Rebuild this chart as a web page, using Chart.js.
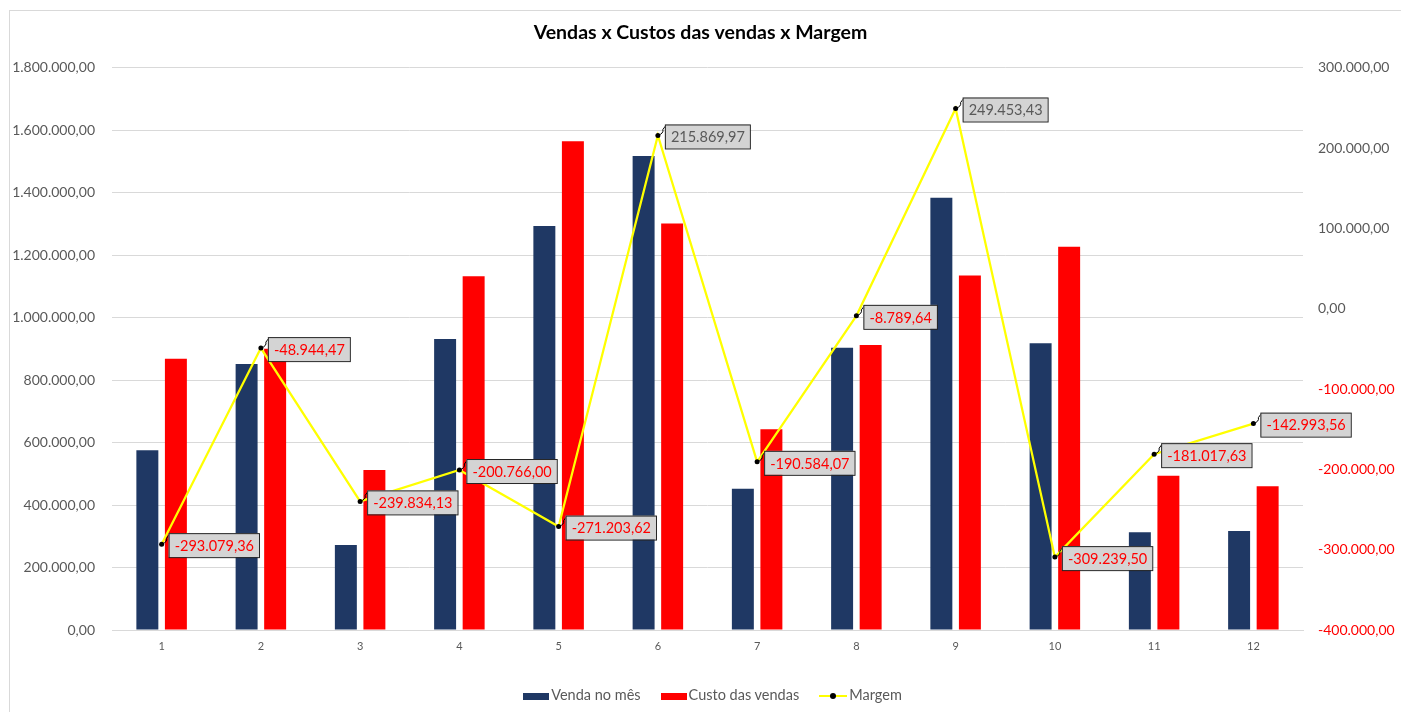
<!DOCTYPE html>
<html lang="pt-BR">
<head>
<meta charset="utf-8">
<title>Vendas x Custos das vendas x Margem</title>
<script src="https://cdn.jsdelivr.net/npm/chart.js@4.4.1/dist/chart.umd.min.js"></script>
<style>
  html, body { margin: 0; padding: 0; background: #fff; }
  #wrap { position: relative; width: 1401px; height: 712px; overflow: hidden; font-family: Lato, "Noto Sans", sans-serif; }
  #frame { position: absolute; left: 9px; top: 10px; width: 1400px; height: 710px; border: 1px solid #d9d9d9; box-sizing: border-box; pointer-events: none; }
  #chart { position: absolute; left: 0; top: 0; }
  #legend { position: absolute; left: 12px; width: 1401px; top: 684px; text-align: center; font-size: 14.5px; color: #595959; }
  #legend span.item { display: inline-block; margin: 0 10px; vertical-align: middle; }
  #legend i { display: inline-block; vertical-align: middle; margin-right: 2px; }
  .sw { width: 26px; height: 7px; }
  .ln { width: 28px; height: 2px; background: #ffff00; position: relative; }
  .ln b { position: absolute; left: 11px; top: -2px; width: 6px; height: 6px; border-radius: 3px; background: #000; }
</style>
</head>
<body>
<div id="wrap">
  <canvas id="chart" width="1401" height="712"></canvas>
  <div id="frame"></div>
  <div id="legend"></div>
</div>
<script>
// Vendas x Custos das vendas x Margem: barras (eixo esquerdo) + linha da margem (eixo direito)
const MESES = ["1", "2", "3", "4", "5", "6", "7", "8", "9", "10", "11", "12"];
const VENDA = [576000, 852000, 272000, 932000, 1294000, 1518000, 452000, 904000, 1384000, 918000, 313000, 317000];
const CUSTO = [869000, 901000, 512000, 1133000, 1565000, 1302000, 643000, 913000, 1135000, 1227000, 494000, 460000];
const MARGEM = [-293079.36, -48944.47, -239834.13, -200766.00, -271203.62, 215869.97, -190584.07, -8789.64, 249453.43, -309239.50, -181017.63, -142993.56];

const NAVY = "#1f3864", RED = "#ff0000", YELLOW = "#ffff00", GRAY = "#595959";
const FONT = "Lato, 'Noto Sans', sans-serif";

const $ = (id) => document.getElementById(id);
const fmt = (v) => new Intl.NumberFormat("pt-BR", { minimumFractionDigits: 2, maximumFractionDigits: 2 }).format(v);

/* ---------------------- rótulos da margem (caixinhas) --------------------- */
const margemLabels = {
  id: "margemLabels",
  afterDatasetsDraw(chart) {
    const meta = chart.getDatasetMeta(2);
    const ctx = chart.ctx;
    ctx.save();
    ctx.font = `14.5px ${FONT}`;
    meta.data.forEach((pt, i) => {
      const v = MARGEM[i];
      const txt = fmt(v);
      const x = pt.x, y = pt.y;
      const w = ctx.measureText(txt).width + 11;
      const bx = x + 7, by = y - 11, bh = 24;
      // linha de chamada
      ctx.strokeStyle = "#000";
      ctx.lineWidth = 1;
      ctx.beginPath();
      ctx.moveTo(x, y);
      ctx.quadraticCurveTo(x + 6, y - 2, x + 5, y - 6);
      ctx.lineTo(bx + 1, by + 1);
      ctx.stroke();
      // caixa
      ctx.fillStyle = "#d4d4d4";
      ctx.fillRect(bx, by, w, bh);
      ctx.strokeStyle = "#262626";
      ctx.strokeRect(bx + 0.5, by + 0.5, w, bh);
      ctx.fillStyle = v < 0 ? RED : GRAY;
      ctx.textAlign = "center";
      ctx.textBaseline = "middle";
      ctx.fillText(txt, bx + w / 2 + 0.5, by + bh / 2 + 1);
      // marcador por cima
      ctx.fillStyle = "#000";
      ctx.beginPath();
      ctx.arc(x, y, 2.5, 0, Math.PI * 2);
      ctx.fill();
    });
    ctx.restore();
  },
};

new Chart($("chart"), {
  data: {
    labels: MESES,
    datasets: [
      { type: "bar", label: "Venda no mês", data: VENDA, backgroundColor: NAVY,
        borderWidth: 0, yAxisID: "y", order: 1, categoryPercentage: 0.575, barPercentage: 0.77 },
      { type: "bar", label: "Custo das vendas", data: CUSTO, backgroundColor: RED,
        borderWidth: 0, yAxisID: "y", order: 1, categoryPercentage: 0.575, barPercentage: 0.77 },
      { type: "line", label: "Margem", data: MARGEM, borderColor: YELLOW, backgroundColor: YELLOW, borderWidth: 2.25,
        pointRadius: 0, tension: 0, yAxisID: "y1", order: 0 },
    ],
  },
  options: {
    responsive: false,
    animation: false,
    layout: { padding: { top: 0, bottom: 0, left: 0, right: 0 } },
    plugins: {
      legend: { display: false },
      tooltip: { enabled: false },
      title: {
        display: true, text: "Vendas x Custos das vendas x Margem", color: "#000",
        font: { family: FONT, size: 19.5, weight: "bold" }, padding: { top: 21, bottom: 23.5 },
      },
    },
    scales: {
      x: {
        grid: { display: false, drawTicks: false },
        border: { display: true, color: "#d9d9d9" },
        ticks: { color: GRAY, font: { family: FONT, size: 11 }, padding: 10 },
        afterFit(s) { s.height = 82; },
      },
      y: {
        position: "left", min: 0, max: 1800000,
        grid: { color: "#d9d9d9", drawTicks: false },
        border: { display: false },
        ticks: { stepSize: 200000, color: GRAY, font: { family: FONT, size: 14 }, padding: 17, callback: (v) => fmt(v) },
        afterFit(s) { s.width = 112; },
      },
      y1: {
        position: "right", min: -400000, max: 300000,
        grid: { display: false, drawTicks: false },
        border: { display: false },
        ticks: {
          stepSize: 100000, font: { family: FONT, size: 14 }, padding: 15, callback: (v) => fmt(v),
          color: (c) => (c.tick && c.tick.value < 0 ? RED : GRAY),
        },
        afterFit(s) { s.width = 98; },
      },
    },
  },
  plugins: [margemLabels],
});

/* ------------------------------ legenda ---------------------------------- */
$("legend").innerHTML =
  `<span class="item"><i class="sw" style="background:${NAVY}"></i>Venda no mês</span>` +
  `<span class="item"><i class="sw" style="background:${RED}"></i>Custo das vendas</span>` +
  `<span class="item"><i class="ln"><b></b></i>Margem</span>`;
</script>
</body>
</html>
